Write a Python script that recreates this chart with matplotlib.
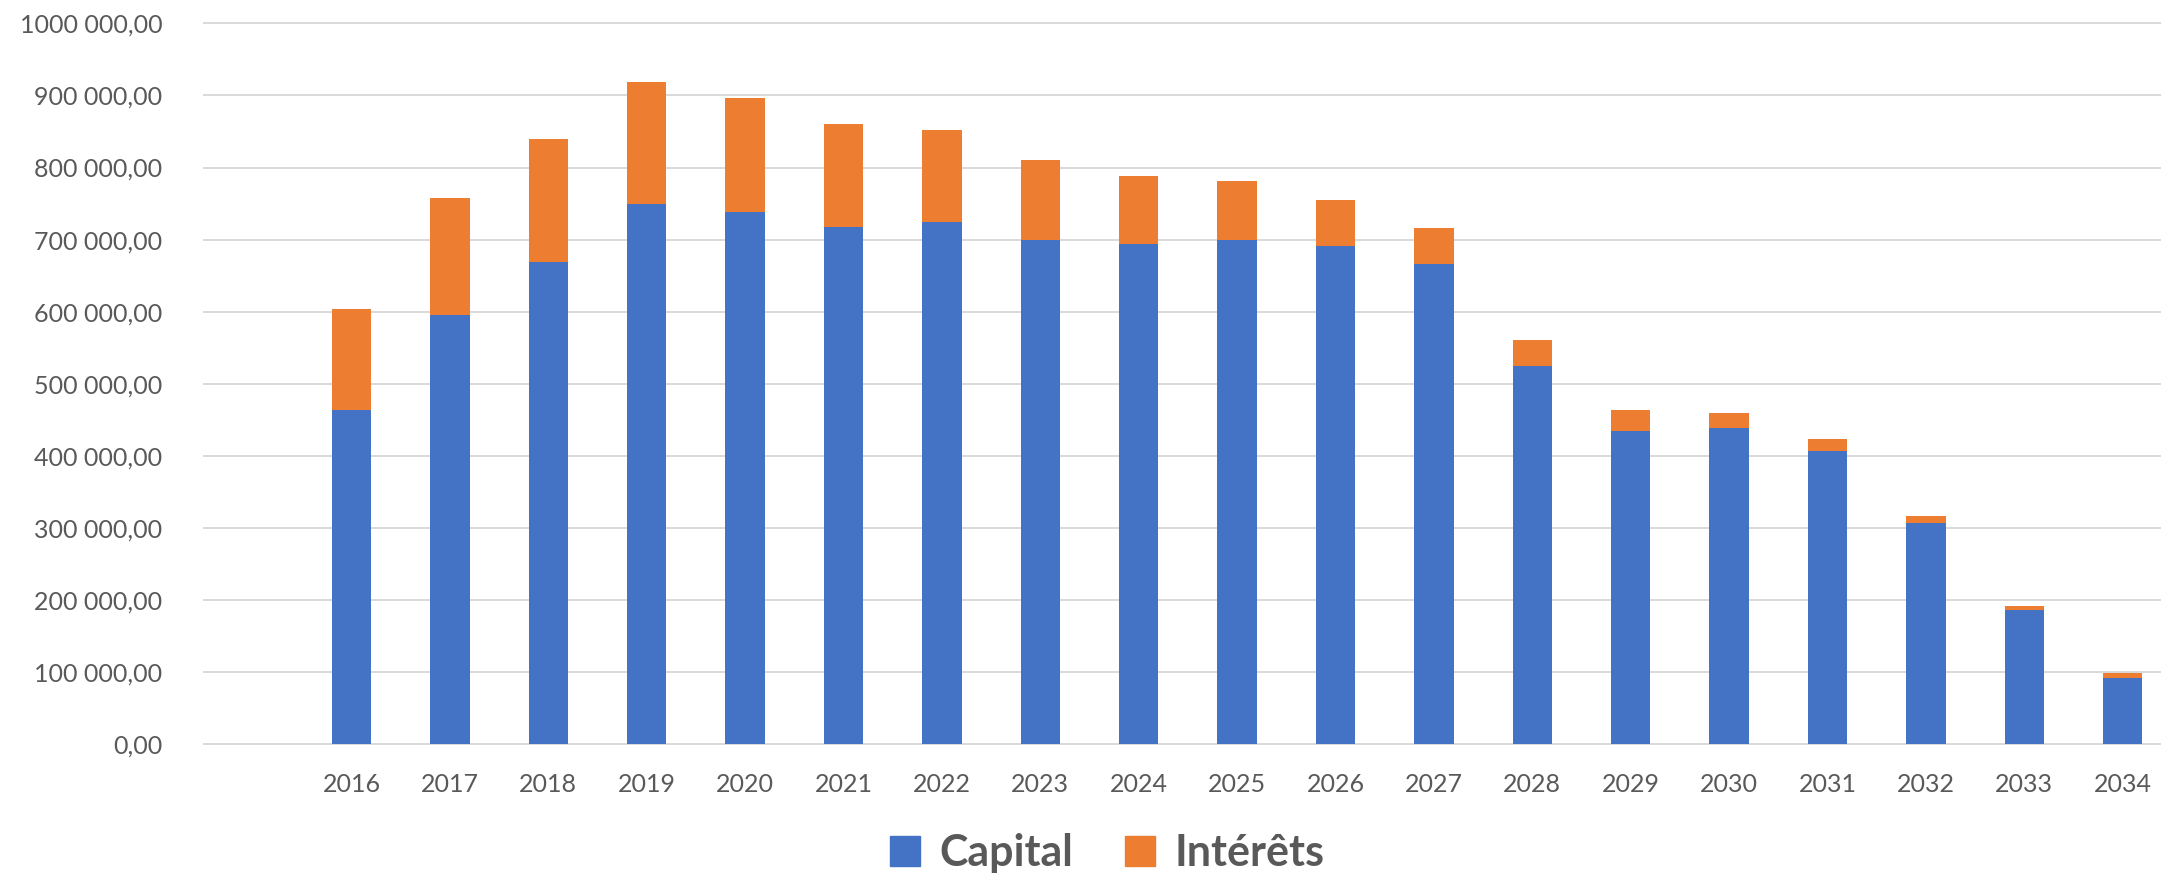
import matplotlib.pyplot as plt
import numpy as np
from matplotlib.patches import Patch

# Colors
color_capital = "#4472C4"
color_interets = "#ED7D31"
color_text = "#595959"
color_grid = "#D9D9D9"

years = [str(y) for y in range(2016, 2035)]
capital = [463000, 596000, 669000, 750000, 738000, 718000, 725000, 700000, 694000, 700000,
           691000, 666000, 525000, 434000, 439000, 407000, 306000, 186000, 92000]
interets = [140000, 162000, 171000, 169000, 158000, 143000, 127000, 110000, 94000, 81000,
            64000, 50000, 35000, 29000, 21000, 16000, 11000, 6000, 6000]
y_ticks = [0, 100000, 200000, 300000, 400000, 500000, 600000, 700000, 800000, 900000, 1000000]
y_ticklabels = ["0,00", "100 000,00", "200 000,00", "300 000,00", "400 000,00", "500 000,00",
                "600 000,00", "700 000,00", "800 000,00", "900 000,00", "1000 000,00"]

plt.rcParams["font.family"] = ["Lato", "DejaVu Sans"]

fig = plt.figure(figsize=(21.61, 8.75), dpi=100)
ax = fig.add_axes([204 / 2161, 131 / 875, 1 - 204 / 2161, (744 - 23.4) / 875])

# first slot of the category axis is left empty
x = np.arange(1, len(years) + 1)
ax.bar(x, capital, width=0.4, color=color_capital, zorder=3)
ax.bar(x, interets, width=0.4, bottom=capital, color=color_interets, zorder=3)

ax.set_xlim(-0.5, 19.39)
ax.set_ylim(0, 1000000)
ax.set_xticks(x)
ax.set_xticklabels(years)
ax.set_yticks(y_ticks)
ax.set_yticklabels(y_ticklabels)
ax.tick_params(axis="x", length=0, pad=21, labelsize=18, labelcolor=color_text)
ax.tick_params(axis="y", length=0, pad=30, labelsize=18, labelcolor=color_text)

for v in y_ticks:
    ax.axhline(v, color=color_grid, linewidth=1.4, zorder=1, clip_on=False)
for s in ax.spines.values():
    s.set_visible(False)

handles = [Patch(color=color_capital, label="Capital"),
           Patch(color=color_interets, label="Intérêts")]
leg = fig.legend(handles=handles, loc="center", bbox_to_anchor=(1107 / 2161, 1 - 853 / 875),
                 ncol=2, frameon=False, handlelength=0.7, handleheight=0.7,
                 handletextpad=0.45, columnspacing=1.2,
                 prop={"size": 31, "weight": "bold"})
for t in leg.get_texts():
    t.set_color(color_text)

plt.savefig("out.png")
plt.close()
